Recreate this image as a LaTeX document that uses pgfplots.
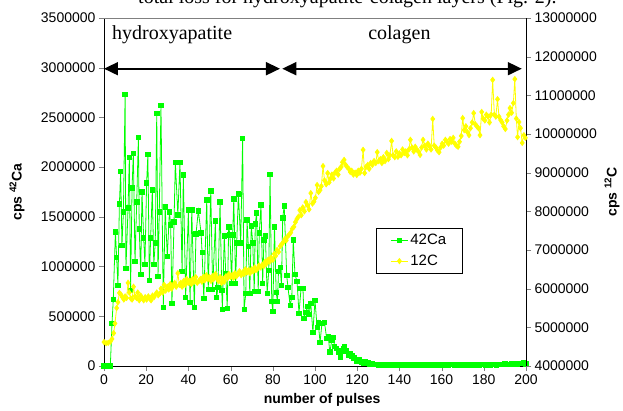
\documentclass[border=0pt]{standalone}
\usepackage{pgfplots}
\pgfplotsset{compat=1.18}
\usepackage{fontspec}
\setmainfont{Liberation Sans}
\newfontfamily\serif{Liberation Serif}
\usetikzlibrary{arrows.meta}

\definecolor{cagreen}{RGB}{0,255,0}
\definecolor{cyellow}{RGB}{255,255,0}

\pgfplotsset{
  common/.style={
    at={(0,0)}, anchor=south west,
    scale only axis, width=422pt, height=348pt,
    xmin=0, xmax=200,
    tick align=outside, major tick length=5pt,
    tick label style={font=\fontsize{14}{16}\selectfont},
    label style={font=\bfseries\fontsize{14}{16}\selectfont},
    scaled ticks=false,
    /pgf/number format/.cd, fixed, precision=0, 1000 sep={}, assume math mode=true,
  },
}

\begin{document}
\begin{tikzpicture}[x=1pt,y=1pt]
\begin{axis}[common,
  axis x line*=bottom, axis y line*=left,
  ymin=0, ymax=3500000,
  xtick={0,20,...,200},
  ytick={0,500000,...,3500000},
  xlabel={number of pulses},
  ylabel={cps \textsuperscript{42}Ca},
  xlabel style={at={(axis description cs:0.517,-0.098)}, anchor=center},
  ylabel style={at={(axis description cs:-0.206,0.5)}, anchor=center},
  clip=false,
]
\addplot[cagreen, line width=0.8pt, mark=square*, mark size=2.2pt] coordinates {
(0,0)(1,0)(2,0)(3,0)
(3.8,430000)(4.4,670000)(5.4,1350000)(6,1090000)(6.6,810000)(7.3,1630000)(7.9,1960000)(8.5,1210000)(9.2,1550000)(10,2730000)
(10.4,980000)(11.4,1590000)(12,2100000)(12.6,760000)(13.3,1790000)(13.9,2140000)(14.7,1050000)(15.5,1650000)(16.3,2300000)(16.7,1380000)
(17.4,920000)(18,1750000)(18.8,1290000)(19.4,1020000)(20.2,1840000)(20.8,2130000)(21.5,860000)(22.1,1290000)(22.9,1770000)(23.6,1020000)
(24.3,1240000)(25,2540000)(25.6,900000)(26.2,1550000)(27,2620000)(28.1,590000)(29,1600000)(30,1100000)(31,1550000)(31.6,1420000)
(32.2,630000)(33.2,1450000)(33.8,2050000)(35,1520000)(36,2050000)(37,950000)(37.6,1920000)(38.7,690000)(40,1570000)(40.8,640000)
(41.6,1570000)(42.8,590000)(43.6,1330000)(44.7,1560000)(46,1340000)(46.5,1140000)(47.3,680000)(48.7,1670000)(49.4,770000)(50.6,1760000)
(51.5,770000)(52.8,1460000)(53.4,690000)(54,790000)(55,1650000)(55.8,760000)(56.1,570000)(57,1310000)(57.7,930000)(58.4,580000)
(59.1,1400000)(59.7,1320000)(60.5,830000)(61,1320000)(61.5,1680000)(62.4,830000)(62.9,1240000)(63.7,1730000)(64.8,1240000)(65.7,2290000)
(66.4,570000)(67.2,730000)(67.8,1470000)(68.4,1200000)(69.1,730000)(69.8,1410000)(70.5,1240000)(71.2,750000)(71.7,1430000)(72.3,1540000)
(73.1,750000)(73.6,1340000)(74.4,1620000)(75.2,830000)(75.8,1270000)(76.5,1310000)(77.3,730000)(78.1,960000)(78.7,1930000)(79.5,650000)
(80,550000)(80.8,1400000)(81.6,740000)(82.2,650000)(82.7,950000)(83.5,990000)(84.1,810000)(84.7,1490000)(85.4,1610000)(86.6,910000)
(87.2,790000)(88.2,610000)(89,690000)(89.7,1270000)(90.5,920000)(91.5,850000)(92.4,530000)(93.4,780000)(94.3,780000)(94.8,480000)
(95.6,540000)(96.5,600000)(97.2,520000)(98,630000)(99,340000)(100,660000)(101,390000)(101.5,440000)(102.4,240000)(103.3,430000)
(104.5,440000)(105.5,280000)(106.3,300000)(107,140000)(108,260000)(108.6,290000)(109.3,200000)(110,180000)(111,140000)(112,90000)
(112.7,150000)(113.4,180000)(114,200000)(115,150000)(115.8,110000)(116.6,120000)(117.4,100000)(118.5,80000)(119.8,50000)(121,60000)
(122,40000)(122.8,30000)(124,40000)(125,30000)(126,20000)(127,25000)(128,15000)
(129,14000)(130,12000)(131,15000)(132,10000)(133,13000)(134,11000)(135,14000)(136,9000)(137,12000)(138,15000)
(139,11000)(140,13000)(141,10000)(142,16000)(143,12000)(144,14000)(145,11000)(146,15000)(147,13000)(148,10000)
(149,14000)(150,12000)(151,16000)(152,11000)(153,13000)(154,15000)(155,10000)(156,14000)(157,12000)(158,17000)
(159,11000)(160,13000)(161,15000)(162,12000)(163,10000)(164,14000)(165,16000)(166,12000)(167,13000)(168,11000)
(169,15000)(170,13000)(171,17000)(172,12000)(173,14000)(174,11000)(175,16000)(176,13000)(177,15000)(178,12000)
(179,18000)(180,14000)(181,12000)(182,16000)(183,13000)(184,17000)(185,15000)(186,12000)(187,18000)(188,14000)
(189,16000)(190,20000)(191,15000)(192,18000)(193,22000)(194,17000)(195,25000)(196,20000)(197,28000)(198,24000)
(199,30000)(200,22000)
};
\draw[line width=1.8pt, {Triangle[length=14pt,width=13pt]}-{Triangle[length=14pt,width=13pt]}]
  (axis cs:0,2990000) -- (axis cs:83.4,2990000);
\draw[line width=1.8pt, {Triangle[length=14pt,width=13pt]}-{Triangle[length=14pt,width=13pt]}]
  (axis cs:84.5,2990000) -- (axis cs:198,2990000);
\node[anchor=base, font=\serif\fontsize{20}{24}\selectfont] at (axis cs:32.3,3280000) {hydroxyapatite};
\node[anchor=base, font=\serif\fontsize{20}{24}\selectfont] at (axis cs:140,3280000) {colagen};
\end{axis}

\begin{axis}[common,
  axis x line=none, axis y line*=right,
  ymin=4000000, ymax=13000000,
  ytick={4000000,5000000,...,13000000},
  ylabel={cps \textsuperscript{12}C},
  ylabel style={at={(axis description cs:1.204,0.5)}, anchor=center},
  clip=false,
  legend style={at={(axis description cs:0.645,0.397)}, anchor=north west,
    draw=black, line width=0.6pt, font=\fontsize{15}{17}\selectfont,
    inner xsep=14pt, inner ysep=4pt, row sep=5pt},
  legend cell align=left,
]
\addlegendimage{cagreen, line width=0.8pt, mark=square*, mark size=2.2pt}
\addlegendentry{42Ca}
\addplot[cyellow, line width=0.8pt, mark=diamond*, mark size=2.6pt] coordinates {
(0,4620000)(1,4590000)(2,4600000)(3,4630000)(3.8,4700000)(4.6,4850000)(5.2,5100000)(6,5500000)(6.6,5650000)(7.3,5890000)
(8,5850000)(8.7,5780000)(9.4,5720000)(10,5800000)(10.7,5760000)(11.4,6150000)(12,5900000)(12.7,5750000)(13.3,5720000)(14,6050000)
(14.7,5800000)(15.4,5760000)(16,5900000)(16.7,5700000)(17.4,5820000)(18,5760000)(18.8,5700000)(19.5,5780000)(20.2,5720000)(21,5800000)
(21.6,5750000)(22.3,5700000)(23,5820000)(23.7,5780000)(24.4,5850000)(25,5900000)(25.7,5830000)(26.4,5870000)(27,6000000)(27.8,5900000)
(28.5,6100000)(29.2,5950000)(30,6050000)(30.7,5980000)(31.4,6120000)(32,6000000)(32.8,6080000)(33.5,6150000)(34.2,6050000)(35,6400000)
(35.7,6100000)(36.4,6150000)(37,6050000)(37.8,6200000)(38.5,6100000)(39.2,6250000)(40,6150000)(40.7,6200000)(41.4,6120000)(42,6250000)
(42.8,6180000)(43.5,6300000)(44.2,6150000)(45,6200000)(45.7,6250000)(46.4,6180000)(47,6300000)(47.8,6220000)(48.5,6350000)(49.2,6250000)
(50,6300000)(50.7,6200000)(51.4,6320000)(52,6250000)(52.8,6380000)(53.5,6280000)(54.2,6200000)(55,6300000)(55.7,6150000)(56.4,6250000)
(57,6180000)(57.8,6320000)(58.5,6270000)(59.2,6380000)(60,6300000)(60.7,6350000)(61.4,6280000)(62,6400000)(62.8,6320000)(63.5,6380000)
(64.2,6450000)(65,6350000)(65.7,6420000)(66.4,6380000)(67,6500000)(67.8,6420000)(68.5,6480000)(69.2,6400000)(70,6500000)(70.7,6450000)
(71.4,6550000)(72,6480000)(72.8,6520000)(73.5,6600000)(74.2,6550000)(75,6620000)(75.7,6580000)(76.4,6700000)(77,6650000)(77.8,6750000)
(78.5,6700000)(79.2,6800000)(80,6750000)(80.7,6900000)(81.4,6850000)(82,7000000)(82.8,6950000)(83.5,7100000)(84.2,7150000)(85,7200000)
(85.7,7280000)(86.4,7250000)(87,7350000)(87.8,7400000)(88.5,7450000)(89.2,7550000)(90,7600000)(90.7,7720000)(91.4,7800000)(92,7850000)
(92.8,8030000)(93.5,7900000)(94.2,8100000)(95,8000000)(95.7,8240000)(96.4,8160000)(97.2,8050000)(98,8470000)(98.8,8200000)(99.5,8250000)
(100.2,8350000)(101,8680000)(101.7,8500000)(102.4,8550000)(103,8650000)(103.8,9170000)(104.5,8800000)(105.3,8700000)(106,8990000)(106.7,8750000)
(107.4,8850000)(108,8950000)(108.8,8850000)(109.5,9000000)(110.2,9050000)(111,8950000)(111.7,9100000)(112.4,9150000)(113,9270000)(113.8,9330000)
(114.5,9200000)(115.2,9150000)(116,9100000)(116.7,9020000)(117.4,9050000)(118.2,8950000)(119,9000000)(119.8,8940000)(120.5,9050000)(121.3,9000000)
(122,9100000)(122.8,9590000)(123.5,8990000)(124.2,9150000)(125,9200000)(125.7,9100000)(126.4,9250000)(127.2,9200000)(128,9300000)(128.8,9250000)
(129.5,9530000)(130.2,9300000)(131,9350000)(131.7,9250000)(132.4,9400000)(133.2,9300000)(134,9510000)(134.8,9350000)(135.5,9450000)(136.3,9820000)
(137,9450000)(137.8,9400000)(138.5,9550000)(139.3,9410000)(140,9500000)(140.8,9450000)(141.5,9600000)(142.3,9510000)(143,9550000)(143.8,9450000)
(144.5,9600000)(145.2,9850000)(146,9650000)(146.8,9550000)(147.5,9670000)(148.2,9600000)(149,9550000)(149.8,9460000)(150.5,9650000)(151.2,9850000)
(152,9700000)(152.8,9600000)(153.5,9750000)(154.2,9690000)(155,9600000)(155.8,10390000)(156.5,9700000)(157.3,9650000)(158,9580000)(158.8,9530000)
(159.5,9650000)(160.3,9750000)(161,9700000)(161.8,9850000)(162.5,9800000)(163.3,9750000)(164,9870000)(164.8,9800000)(165.5,9900000)(166.3,9750000)
(167,9700000)(167.8,9670000)(168.5,9800000)(169.3,9950000)(170,10410000)(170.7,10100000)(171.5,10200000)(172.2,10050000)(173,9970000)(173.7,10150000)
(174.5,10300000)(175.2,10540000)(176,10250000)(176.7,10200000)(177.5,10150000)(178.2,9970000)(179,10570000)(179.7,10400000)(180.5,10350000)(181.2,10500000)
(182,10450000)(182.7,10300000)(183.5,10500000)(184.2,11400000)(185,10500000)(185.7,10450000)(186.5,10900000)(187.2,10450000)(188,10360000)(188.7,10300000)
(189.4,10200000)(190.2,10130000)(191,10350000)(191.7,10500000)(192.4,10670000)(193.2,10550000)(194,10800000)(194.7,11420000)(195.4,10400000)(196,9920000)
(196.7,10310000)(197.4,10150000)(198.2,9770000)(199,9970000)(199.7,9900000)
};
\addlegendentry{12C}
\draw[gray, line width=1pt] (rel axis cs:0,1) -- (rel axis cs:1,1);
\end{axis}
\node[anchor=base east, font=\serif\fontsize{20}{24}\selectfont] at (456,362) {total loss for hydroxyapatite-colagen layers (Fig. 2).};
\pgfresetboundingbox
\useasboundingbox (-104,-44) rectangle (519,366);
\end{tikzpicture}
\end{document}
